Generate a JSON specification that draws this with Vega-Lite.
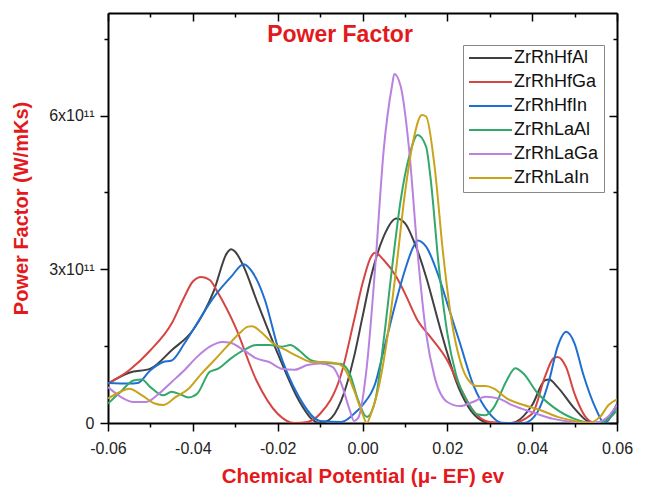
{
 "$schema": "https://vega.github.io/schema/vega-lite/v6.json",
 "width": 509, "height": 410,
 "autosize": {"type": "none"},
 "padding": {"left": 108, "top": 13, "right": 29, "bottom": 70},
 "background": "white",
 "config": {
  "view": {"stroke": null},
  "font": "Liberation Sans",
  "axis": {"grid": false, "domainColor": "#000", "domainWidth": 2, "tickColor": "#000", "tickWidth": 1.5, "labelFont": "Liberation Sans", "titleFont": "Liberation Sans", "labelColor": "#222", "labelFontSize": 16}
 },
 "data": {"values": [
  {"c":"ZrRhHfAl","x":-0.06,"y":0.77e11},{"c":"ZrRhHfAl","x":-0.055,"y":0.98e11},{"c":"ZrRhHfAl","x":-0.05,"y":1.06e11},{"c":"ZrRhHfAl","x":-0.045,"y":1.42e11},{"c":"ZrRhHfAl","x":-0.04,"y":1.81e11},{"c":"ZrRhHfAl","x":-0.035,"y":2.59e11},{"c":"ZrRhHfAl","x":-0.032,"y":3.31e11},{"c":"ZrRhHfAl","x":-0.031,"y":3.39e11},{"c":"ZrRhHfAl","x":-0.03,"y":3.34e11},{"c":"ZrRhHfAl","x":-0.028,"y":3.05e11},{"c":"ZrRhHfAl","x":-0.025,"y":2.4e11},{"c":"ZrRhHfAl","x":-0.02,"y":1.36e11},{"c":"ZrRhHfAl","x":-0.015,"y":0.44e11},{"c":"ZrRhHfAl","x":-0.012,"y":0.08e11},{"c":"ZrRhHfAl","x":-0.01,"y":0},{"c":"ZrRhHfAl","x":-0.008,"y":0.05e11},{"c":"ZrRhHfAl","x":-0.005,"y":0.44e11},{"c":"ZrRhHfAl","x":-0.002,"y":1.29e11},{"c":"ZrRhHfAl","x":0,"y":2.07e11},{"c":"ZrRhHfAl","x":0.002,"y":2.85e11},{"c":"ZrRhHfAl","x":0.005,"y":3.64e11},{"c":"ZrRhHfAl","x":0.008,"y":3.99e11},{"c":"ZrRhHfAl","x":0.01,"y":3.9e11},{"c":"ZrRhHfAl","x":0.012,"y":3.57e11},{"c":"ZrRhHfAl","x":0.015,"y":2.85e11},{"c":"ZrRhHfAl","x":0.018,"y":1.94e11},{"c":"ZrRhHfAl","x":0.02,"y":1.36e11},{"c":"ZrRhHfAl","x":0.022,"y":0.83e11},{"c":"ZrRhHfAl","x":0.025,"y":0.31e11},{"c":"ZrRhHfAl","x":0.028,"y":0.05e11},{"c":"ZrRhHfAl","x":0.03,"y":0},{"c":"ZrRhHfAl","x":0.035,"y":0},{"c":"ZrRhHfAl","x":0.04,"y":0.35e11},{"c":"ZrRhHfAl","x":0.043,"y":0.83e11},{"c":"ZrRhHfAl","x":0.044,"y":0.85e11},{"c":"ZrRhHfAl","x":0.046,"y":0.7e11},{"c":"ZrRhHfAl","x":0.05,"y":0.28e11},{"c":"ZrRhHfAl","x":0.053,"y":0.04e11},{"c":"ZrRhHfAl","x":0.055,"y":0},{"c":"ZrRhHfAl","x":0.057,"y":0.03e11},{"c":"ZrRhHfAl","x":0.06,"y":0.35e11},
  {"c":"ZrRhHfGa","x":-0.06,"y":0.77e11},{"c":"ZrRhHfGa","x":-0.055,"y":1.03e11},{"c":"ZrRhHfGa","x":-0.05,"y":1.42e11},{"c":"ZrRhHfGa","x":-0.045,"y":1.94e11},{"c":"ZrRhHfGa","x":-0.042,"y":2.46e11},{"c":"ZrRhHfGa","x":-0.04,"y":2.76e11},{"c":"ZrRhHfGa","x":-0.038,"y":2.85e11},{"c":"ZrRhHfGa","x":-0.036,"y":2.79e11},{"c":"ZrRhHfGa","x":-0.034,"y":2.53e11},{"c":"ZrRhHfGa","x":-0.03,"y":1.88e11},{"c":"ZrRhHfGa","x":-0.025,"y":0.83e11},{"c":"ZrRhHfGa","x":-0.02,"y":0.18e11},{"c":"ZrRhHfGa","x":-0.016,"y":0},{"c":"ZrRhHfGa","x":-0.013,"y":0.02e11},{"c":"ZrRhHfGa","x":-0.01,"y":0.18e11},{"c":"ZrRhHfGa","x":-0.005,"y":0.96e11},{"c":"ZrRhHfGa","x":-0.002,"y":2.0e11},{"c":"ZrRhHfGa","x":0,"y":2.72e11},{"c":"ZrRhHfGa","x":0.002,"y":3.24e11},{"c":"ZrRhHfGa","x":0.003,"y":3.32e11},{"c":"ZrRhHfGa","x":0.005,"y":3.18e11},{"c":"ZrRhHfGa","x":0.008,"y":2.85e11},{"c":"ZrRhHfGa","x":0.01,"y":2.53e11},{"c":"ZrRhHfGa","x":0.013,"y":2.0e11},{"c":"ZrRhHfGa","x":0.016,"y":1.68e11},{"c":"ZrRhHfGa","x":0.02,"y":1.22e11},{"c":"ZrRhHfGa","x":0.023,"y":0.7e11},{"c":"ZrRhHfGa","x":0.026,"y":0.25e11},{"c":"ZrRhHfGa","x":0.03,"y":0.02e11},{"c":"ZrRhHfGa","x":0.035,"y":0},{"c":"ZrRhHfGa","x":0.04,"y":0.18e11},{"c":"ZrRhHfGa","x":0.043,"y":0.9e11},{"c":"ZrRhHfGa","x":0.045,"y":1.26e11},{"c":"ZrRhHfGa","x":0.046,"y":1.29e11},{"c":"ZrRhHfGa","x":0.048,"y":1.09e11},{"c":"ZrRhHfGa","x":0.05,"y":0.57e11},{"c":"ZrRhHfGa","x":0.053,"y":0.08e11},{"c":"ZrRhHfGa","x":0.055,"y":0},{"c":"ZrRhHfGa","x":0.058,"y":0.12e11},{"c":"ZrRhHfGa","x":0.06,"y":0.35e11},
  {"c":"ZrRhHfIn","x":-0.06,"y":0.78e11},{"c":"ZrRhHfIn","x":-0.055,"y":0.77e11},{"c":"ZrRhHfIn","x":-0.053,"y":0.78e11},{"c":"ZrRhHfIn","x":-0.05,"y":1.03e11},{"c":"ZrRhHfIn","x":-0.047,"y":1.19e11},{"c":"ZrRhHfIn","x":-0.045,"y":1.22e11},{"c":"ZrRhHfIn","x":-0.042,"y":1.55e11},{"c":"ZrRhHfIn","x":-0.04,"y":1.81e11},{"c":"ZrRhHfIn","x":-0.035,"y":2.46e11},{"c":"ZrRhHfIn","x":-0.031,"y":2.85e11},{"c":"ZrRhHfIn","x":-0.028,"y":3.1e11},{"c":"ZrRhHfIn","x":-0.026,"y":2.95e11},{"c":"ZrRhHfIn","x":-0.023,"y":2.4e11},{"c":"ZrRhHfIn","x":-0.02,"y":1.49e11},{"c":"ZrRhHfIn","x":-0.015,"y":0.51e11},{"c":"ZrRhHfIn","x":-0.01,"y":0.04e11},{"c":"ZrRhHfIn","x":-0.005,"y":0.02e11},{"c":"ZrRhHfIn","x":-0.002,"y":0.18e11},{"c":"ZrRhHfIn","x":0,"y":0.35e11},{"c":"ZrRhHfIn","x":0.003,"y":0.77e11},{"c":"ZrRhHfIn","x":0.005,"y":1.42e11},{"c":"ZrRhHfIn","x":0.008,"y":2.4e11},{"c":"ZrRhHfIn","x":0.01,"y":2.98e11},{"c":"ZrRhHfIn","x":0.012,"y":3.44e11},{"c":"ZrRhHfIn","x":0.013,"y":3.56e11},{"c":"ZrRhHfIn","x":0.015,"y":3.44e11},{"c":"ZrRhHfIn","x":0.018,"y":2.85e11},{"c":"ZrRhHfIn","x":0.02,"y":2.33e11},{"c":"ZrRhHfIn","x":0.023,"y":1.55e11},{"c":"ZrRhHfIn","x":0.026,"y":0.77e11},{"c":"ZrRhHfIn","x":0.03,"y":0.18e11},{"c":"ZrRhHfIn","x":0.033,"y":0},{"c":"ZrRhHfIn","x":0.038,"y":0},{"c":"ZrRhHfIn","x":0.041,"y":0.18e11},{"c":"ZrRhHfIn","x":0.044,"y":0.83e11},{"c":"ZrRhHfIn","x":0.046,"y":1.49e11},{"c":"ZrRhHfIn","x":0.048,"y":1.78e11},{"c":"ZrRhHfIn","x":0.05,"y":1.55e11},{"c":"ZrRhHfIn","x":0.052,"y":0.96e11},{"c":"ZrRhHfIn","x":0.055,"y":0.28e11},{"c":"ZrRhHfIn","x":0.057,"y":0},{"c":"ZrRhHfIn","x":0.06,"y":0.38e11},
  {"c":"ZrRhLaAl","x":-0.06,"y":0.38e11},{"c":"ZrRhLaAl","x":-0.057,"y":0.61e11},{"c":"ZrRhLaAl","x":-0.054,"y":0.83e11},{"c":"ZrRhLaAl","x":-0.052,"y":0.85e11},{"c":"ZrRhLaAl","x":-0.05,"y":0.7e11},{"c":"ZrRhLaAl","x":-0.047,"y":0.54e11},{"c":"ZrRhLaAl","x":-0.045,"y":0.61e11},{"c":"ZrRhLaAl","x":-0.043,"y":0.56e11},{"c":"ZrRhLaAl","x":-0.041,"y":0.5e11},{"c":"ZrRhLaAl","x":-0.039,"y":0.57e11},{"c":"ZrRhLaAl","x":-0.036,"y":1.0e11},{"c":"ZrRhLaAl","x":-0.034,"y":1.06e11},{"c":"ZrRhLaAl","x":-0.031,"y":1.26e11},{"c":"ZrRhLaAl","x":-0.028,"y":1.42e11},{"c":"ZrRhLaAl","x":-0.025,"y":1.52e11},{"c":"ZrRhLaAl","x":-0.022,"y":1.52e11},{"c":"ZrRhLaAl","x":-0.019,"y":1.49e11},{"c":"ZrRhLaAl","x":-0.017,"y":1.52e11},{"c":"ZrRhLaAl","x":-0.015,"y":1.42e11},{"c":"ZrRhLaAl","x":-0.012,"y":1.22e11},{"c":"ZrRhLaAl","x":-0.008,"y":1.17e11},{"c":"ZrRhLaAl","x":-0.005,"y":1.15e11},{"c":"ZrRhLaAl","x":-0.003,"y":0.96e11},{"c":"ZrRhLaAl","x":-0.001,"y":0.44e11},{"c":"ZrRhLaAl","x":0.001,"y":0.12e11},{"c":"ZrRhLaAl","x":0.003,"y":0.44e11},{"c":"ZrRhLaAl","x":0.005,"y":1.62e11},{"c":"ZrRhLaAl","x":0.007,"y":3.05e11},{"c":"ZrRhLaAl","x":0.009,"y":4.35e11},{"c":"ZrRhLaAl","x":0.011,"y":5.2e11},{"c":"ZrRhLaAl","x":0.013,"y":5.62e11},{"c":"ZrRhLaAl","x":0.015,"y":5.39e11},{"c":"ZrRhLaAl","x":0.016,"y":4.81e11},{"c":"ZrRhLaAl","x":0.018,"y":3.05e11},{"c":"ZrRhLaAl","x":0.02,"y":1.75e11},{"c":"ZrRhLaAl","x":0.022,"y":0.96e11},{"c":"ZrRhLaAl","x":0.025,"y":0.38e11},{"c":"ZrRhLaAl","x":0.027,"y":0.17e11},{"c":"ZrRhLaAl","x":0.029,"y":0.15e11},{"c":"ZrRhLaAl","x":0.031,"y":0.31e11},{"c":"ZrRhLaAl","x":0.034,"y":0.83e11},{"c":"ZrRhLaAl","x":0.036,"y":1.07e11},{"c":"ZrRhLaAl","x":0.038,"y":0.96e11},{"c":"ZrRhLaAl","x":0.041,"y":0.61e11},{"c":"ZrRhLaAl","x":0.045,"y":0.31e11},{"c":"ZrRhLaAl","x":0.05,"y":0.08e11},{"c":"ZrRhLaAl","x":0.054,"y":0},{"c":"ZrRhLaAl","x":0.057,"y":0.03e11},{"c":"ZrRhLaAl","x":0.06,"y":0.25e11},
  {"c":"ZrRhLaGa","x":-0.06,"y":0.7e11},{"c":"ZrRhLaGa","x":-0.057,"y":0.51e11},{"c":"ZrRhLaGa","x":-0.054,"y":0.41e11},{"c":"ZrRhLaGa","x":-0.051,"y":0.41e11},{"c":"ZrRhLaGa","x":-0.048,"y":0.57e11},{"c":"ZrRhLaGa","x":-0.045,"y":0.8e11},{"c":"ZrRhLaGa","x":-0.042,"y":1.03e11},{"c":"ZrRhLaGa","x":-0.039,"y":1.29e11},{"c":"ZrRhLaGa","x":-0.036,"y":1.49e11},{"c":"ZrRhLaGa","x":-0.033,"y":1.58e11},{"c":"ZrRhLaGa","x":-0.031,"y":1.56e11},{"c":"ZrRhLaGa","x":-0.028,"y":1.42e11},{"c":"ZrRhLaGa","x":-0.025,"y":1.26e11},{"c":"ZrRhLaGa","x":-0.022,"y":1.19e11},{"c":"ZrRhLaGa","x":-0.019,"y":1.06e11},{"c":"ZrRhLaGa","x":-0.016,"y":1.04e11},{"c":"ZrRhLaGa","x":-0.013,"y":1.13e11},{"c":"ZrRhLaGa","x":-0.01,"y":1.16e11},{"c":"ZrRhLaGa","x":-0.007,"y":1.09e11},{"c":"ZrRhLaGa","x":-0.005,"y":0.77e11},{"c":"ZrRhLaGa","x":-0.003,"y":0.25e11},{"c":"ZrRhLaGa","x":-0.002,"y":0.04e11},{"c":"ZrRhLaGa","x":-0.001,"y":0.1e11},{"c":"ZrRhLaGa","x":0.001,"y":1.09e11},{"c":"ZrRhLaGa","x":0.003,"y":3.05e11},{"c":"ZrRhLaGa","x":0.005,"y":5.33e11},{"c":"ZrRhLaGa","x":0.007,"y":6.6e11},{"c":"ZrRhLaGa","x":0.0075,"y":6.81e11},{"c":"ZrRhLaGa","x":0.009,"y":6.57e11},{"c":"ZrRhLaGa","x":0.011,"y":5.33e11},{"c":"ZrRhLaGa","x":0.013,"y":3.31e11},{"c":"ZrRhLaGa","x":0.015,"y":1.75e11},{"c":"ZrRhLaGa","x":0.017,"y":0.9e11},{"c":"ZrRhLaGa","x":0.02,"y":0.41e11},{"c":"ZrRhLaGa","x":0.023,"y":0.33e11},{"c":"ZrRhLaGa","x":0.026,"y":0.41e11},{"c":"ZrRhLaGa","x":0.029,"y":0.51e11},{"c":"ZrRhLaGa","x":0.032,"y":0.48e11},{"c":"ZrRhLaGa","x":0.035,"y":0.36e11},{"c":"ZrRhLaGa","x":0.04,"y":0.21e11},{"c":"ZrRhLaGa","x":0.045,"y":0.08e11},{"c":"ZrRhLaGa","x":0.05,"y":0.02e11},{"c":"ZrRhLaGa","x":0.055,"y":0.01e11},{"c":"ZrRhLaGa","x":0.058,"y":0.13e11},{"c":"ZrRhLaGa","x":0.06,"y":0.35e11},
  {"c":"ZrRhLaIn","x":-0.06,"y":0.48e11},{"c":"ZrRhLaIn","x":-0.057,"y":0.61e11},{"c":"ZrRhLaIn","x":-0.055,"y":0.67e11},{"c":"ZrRhLaIn","x":-0.052,"y":0.54e11},{"c":"ZrRhLaIn","x":-0.049,"y":0.38e11},{"c":"ZrRhLaIn","x":-0.047,"y":0.35e11},{"c":"ZrRhLaIn","x":-0.044,"y":0.51e11},{"c":"ZrRhLaIn","x":-0.041,"y":0.67e11},{"c":"ZrRhLaIn","x":-0.038,"y":0.96e11},{"c":"ZrRhLaIn","x":-0.035,"y":1.22e11},{"c":"ZrRhLaIn","x":-0.032,"y":1.49e11},{"c":"ZrRhLaIn","x":-0.029,"y":1.75e11},{"c":"ZrRhLaIn","x":-0.027,"y":1.88e11},{"c":"ZrRhLaIn","x":-0.026,"y":1.89e11},{"c":"ZrRhLaIn","x":-0.024,"y":1.78e11},{"c":"ZrRhLaIn","x":-0.021,"y":1.55e11},{"c":"ZrRhLaIn","x":-0.018,"y":1.42e11},{"c":"ZrRhLaIn","x":-0.015,"y":1.29e11},{"c":"ZrRhLaIn","x":-0.012,"y":1.19e11},{"c":"ZrRhLaIn","x":-0.009,"y":1.19e11},{"c":"ZrRhLaIn","x":-0.006,"y":1.16e11},{"c":"ZrRhLaIn","x":-0.004,"y":1.03e11},{"c":"ZrRhLaIn","x":-0.002,"y":0.64e11},{"c":"ZrRhLaIn","x":0,"y":0.18e11},{"c":"ZrRhLaIn","x":0.001,"y":0},{"c":"ZrRhLaIn","x":0.002,"y":0.18e11},{"c":"ZrRhLaIn","x":0.004,"y":0.77e11},{"c":"ZrRhLaIn","x":0.006,"y":1.75e11},{"c":"ZrRhLaIn","x":0.008,"y":3.05e11},{"c":"ZrRhLaIn","x":0.01,"y":4.48e11},{"c":"ZrRhLaIn","x":0.012,"y":5.52e11},{"c":"ZrRhLaIn","x":0.014,"y":6.01e11},{"c":"ZrRhLaIn","x":0.015,"y":5.98e11},{"c":"ZrRhLaIn","x":0.017,"y":5.0e11},{"c":"ZrRhLaIn","x":0.019,"y":3.31e11},{"c":"ZrRhLaIn","x":0.021,"y":2.0e11},{"c":"ZrRhLaIn","x":0.023,"y":1.22e11},{"c":"ZrRhLaIn","x":0.025,"y":0.83e11},{"c":"ZrRhLaIn","x":0.027,"y":0.72e11},{"c":"ZrRhLaIn","x":0.029,"y":0.72e11},{"c":"ZrRhLaIn","x":0.031,"y":0.67e11},{"c":"ZrRhLaIn","x":0.034,"y":0.48e11},{"c":"ZrRhLaIn","x":0.038,"y":0.35e11},{"c":"ZrRhLaIn","x":0.042,"y":0.25e11},{"c":"ZrRhLaIn","x":0.046,"y":0.12e11},{"c":"ZrRhLaIn","x":0.05,"y":0.04e11},{"c":"ZrRhLaIn","x":0.053,"y":0},{"c":"ZrRhLaIn","x":0.056,"y":0.12e11},{"c":"ZrRhLaIn","x":0.058,"y":0.35e11},{"c":"ZrRhLaIn","x":0.06,"y":0.46e11}
 ]},
 "layer": [
  {
   "mark": {"type": "line", "interpolate": "monotone", "strokeWidth": 2, "clip": true},
   "encoding": {
    "x": {"field": "x", "type": "quantitative", "scale": {"domain": [-0.06, 0.06], "nice": false, "zero": false},
     "axis": {"orient": "bottom", "values": [-0.06,-0.05,-0.04,-0.03,-0.02,-0.01,0,0.01,0.02,0.03,0.04,0.05,0.06],
      "labelExpr": "abs(round(datum.value*100)) % 2 == 1 ? '' : (datum.value < -1e-9 ? '-' : '') + format(abs(datum.value), '.2f')",
      "tickSize": {"condition": {"test": "abs(round(datum.value*100)) % 2 == 0", "value": 8}, "value": 4},
      "labelPadding": 9, "labelFlush": false, "labelOverlap": false,
      "title": "Chemical Potential (μ- EF) ev", "titleColor": "#e3191c", "titleFontSize": 20.5, "titleFontWeight": "bold", "titleY": 59, "titleBaseline": "alphabetic"}},
    "y": {"field": "y", "type": "quantitative", "scale": {"domain": [0, 8e11], "nice": false},
     "axis": {"orient": "left", "values": [0, 1.5e11, 3e11, 4.5e11, 6e11, 7.5e11],
      "labelExpr": "datum.value == 0 ? '0' : (datum.value % 3e11 == 0 ? (datum.value/1e11) + 'x10¹¹' : '')",
      "tickSize": {"condition": {"test": "datum.value % 3e11 == 0", "value": 8}, "value": 4},
      "labelPadding": 6, "labelOverlap": false,
      "title": "Power Factor (W/mKs)", "titleColor": "#e3191c", "titleFontSize": 20, "titleFontWeight": "bold", "titleX": -81, "titleY": 195, "titleBaseline": "alphabetic"}},
    "color": {"field": "c", "type": "nominal",
     "scale": {"domain": ["ZrRhHfAl","ZrRhHfGa","ZrRhHfIn","ZrRhLaAl","ZrRhLaGa","ZrRhLaIn"], "range": ["#404040","#d64541","#1f6fd0","#33a86b","#b982e0","#c9a31b"]},
     "legend": {"orient": "none", "legendX": 355, "legendY": 32, "title": null, "symbolType": "stroke", "symbolSize": 1849, "symbolStrokeWidth": 2, "clipHeight": 16, "rowPadding": 6, "labelFontSize": 18, "labelOffset": 1, "labelColor": "#111", "labelFont": "Liberation Sans", "labelLimit": 200, "strokeColor": "#888", "padding": 5, "symbolOffset": 0}}
   }
  },
  {
   "mark": {"type": "point", "opacity": 0},
   "encoding": {
    "x": {"field": "x", "type": "quantitative", "scale": {"domain": [-0.06, 0.06], "nice": false, "zero": false},
     "axis": {"orient": "top", "values": [-0.06,-0.05,-0.04,-0.03,-0.02,-0.01,0,0.01,0.02,0.03,0.04,0.05,0.06], "labels": false, "title": null,
      "tickSize": {"condition": {"test": "abs(round(datum.value*100)) % 2 == 0", "value": -8}, "value": -4}}},
    "y": {"field": "y", "type": "quantitative", "scale": {"domain": [0, 8e11], "nice": false},
     "axis": {"orient": "right", "values": [0, 1.5e11, 3e11, 4.5e11, 6e11, 7.5e11], "labels": false, "title": null,
      "tickSize": {"condition": {"test": "datum.value % 3e11 == 0", "value": -8}, "value": -4}}}
   }
  },
  {
   "data": {"values": [{"label": "Power Factor"}]},
   "mark": {"type": "text", "align": "center", "baseline": "alphabetic", "font": "Liberation Sans", "fontSize": 23, "fontWeight": "bold", "color": "#e3191c"},
   "encoding": {
    "text": {"field": "label", "type": "nominal"},
    "x": {"datum": -0.0053, "type": "quantitative", "axis": null},
    "y": {"datum": 7.43e11, "type": "quantitative", "axis": null}
   }
  }
 ],
 "resolve": {"axis": {"x": "independent", "y": "independent"}}
}
